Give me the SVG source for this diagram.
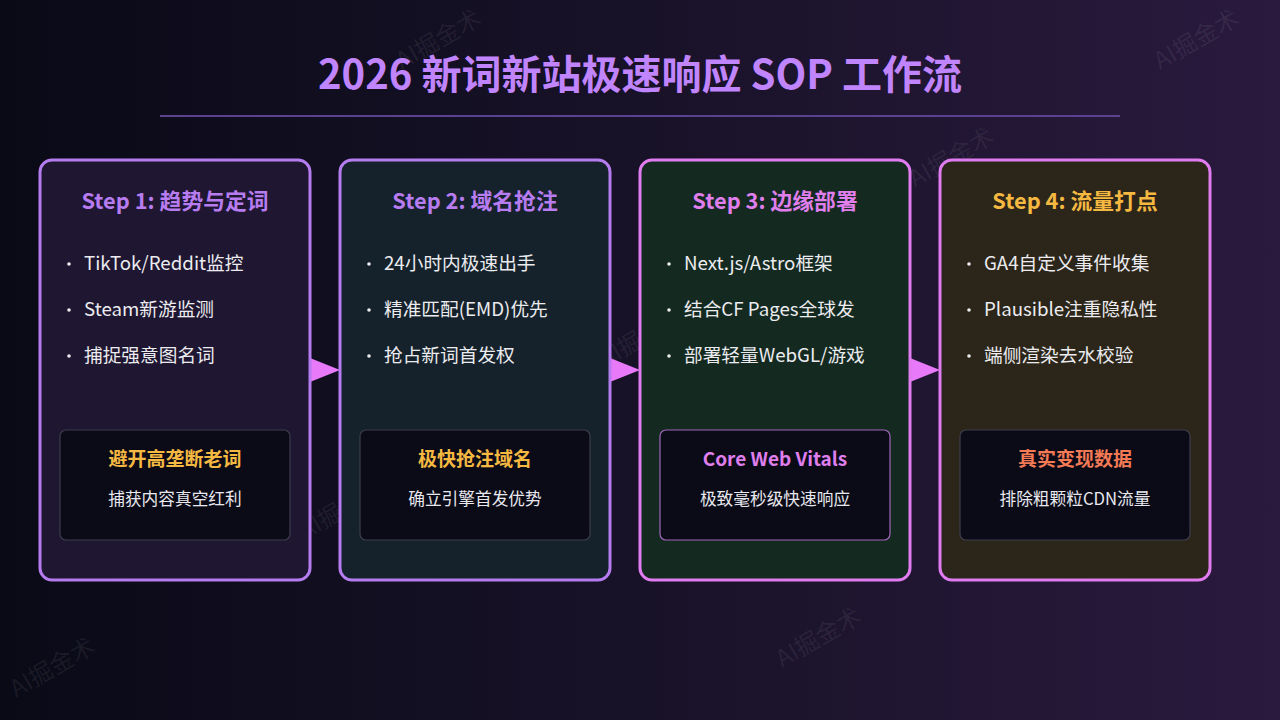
<svg xmlns="http://www.w3.org/2000/svg" width="1280" height="720" viewBox="0 0 1280 720">
<defs>
<linearGradient id="bg" x1="0" y1="0" x2="1" y2="0">
<stop offset="0" stop-color="#0a0a17"/>
<stop offset="0.5" stop-color="#181228"/>
<stop offset="1" stop-color="#2a1a3e"/>
</linearGradient>
<style>
text{font-family:"Noto Sans CJK SC","Noto Sans",sans-serif;}
.title{font-size:40px;font-weight:700;fill:#c084fc;text-anchor:middle;}
.step{font-size:21.8px;font-weight:700;text-anchor:middle;}
.item{font-size:18.7px;fill:#ececf0;}
.dot{fill:#ececf0;}
.card{stroke-width:3;}
.inner{fill:#0b0b18;stroke:#3c3c4c;stroke-width:1.2;}
.hl{font-size:19px;font-weight:700;text-anchor:middle;}
.sub{font-size:16.7px;fill:#e8e8ee;text-anchor:middle;}
.wm{font-size:24px;fill:#ffffff;fill-opacity:0.07;}
.arrow{fill:#e879f9;}
</style>
</defs>
<rect width="1280" height="720" fill="url(#bg)"/>
<g id="watermarks">
<text class="wm" transform="translate(402,70) rotate(-30)">AI掘金术</text>
<text class="wm" transform="translate(305,540) rotate(-30)">AI掘金术</text>
<text class="wm" transform="translate(605,368) rotate(-30)">AI掘金术</text>
<text class="wm" transform="translate(915,188) rotate(-30)">AI掘金术</text>
<text class="wm" transform="translate(1085,490) rotate(-30)">AI掘金术</text>
<text class="wm" transform="translate(782,668) rotate(-30)">AI掘金术</text>
<text class="wm" transform="translate(16,698) rotate(-30)">AI掘金术</text>
<text class="wm" transform="translate(1160,70) rotate(-30)">AI掘金术</text>
</g>
<g id="header">
<text class="title" x="640" y="89">2026 新词新站极速响应 SOP 工作流</text>
<line x1="160" y1="116" x2="1120" y2="116" stroke="#5b4290" stroke-width="2"/>
</g>
<g id="connectors">
<polygon class="arrow" points="310,358 340,370 310,382"/>
<polygon class="arrow" points="610,358 640,370 610,382"/>
<polygon class="arrow" points="910,358 940,370 910,382"/>
</g>
<g id="step1">
<rect class="card" x="40" y="160" width="270" height="420" rx="12" fill="#1f1631" stroke="#b57cf0"/>
<text class="step" x="175" y="209" fill="#b77cf0">Step 1: 趋势与定词</text>
<circle class="dot" cx="69" cy="264" r="1.8"/><text class="item" x="84" y="270">TikTok/Reddit监控</text>
<circle class="dot" cx="69" cy="310" r="1.8"/><text class="item" x="84" y="316">Steam新游监测</text>
<circle class="dot" cx="69" cy="356" r="1.8"/><text class="item" x="84" y="362">捕捉强意图名词</text>
<rect class="inner" x="60" y="430" width="230" height="110" rx="6"/>
<text class="hl" x="175" y="466" fill="#f5b942">避开高垄断老词</text>
<text class="sub" x="175" y="505">捕获内容真空红利</text>
</g>
<g id="step2">
<rect class="card" x="340" y="160" width="270" height="420" rx="12" fill="#15222b" stroke="#b57cf0"/>
<text class="step" x="475" y="209" fill="#b77cf0">Step 2: 域名抢注</text>
<circle class="dot" cx="369" cy="264" r="1.8"/><text class="item" x="384" y="270">24小时内极速出手</text>
<circle class="dot" cx="369" cy="310" r="1.8"/><text class="item" x="384" y="316">精准匹配(EMD)优先</text>
<circle class="dot" cx="369" cy="356" r="1.8"/><text class="item" x="384" y="362">抢占新词首发权</text>
<rect class="inner" x="360" y="430" width="230" height="110" rx="6"/>
<text class="hl" x="475" y="466" fill="#f5b942">极快抢注域名</text>
<text class="sub" x="475" y="505">确立引擎首发优势</text>
</g>
<g id="step3">
<rect class="card" x="640" y="160" width="270" height="420" rx="12" fill="#142a20" stroke="#e07cf0"/>
<text class="step" x="775" y="209" fill="#df7eec">Step 3: 边缘部署</text>
<circle class="dot" cx="669" cy="264" r="1.8"/><text class="item" x="684" y="270">Next.js/Astro框架</text>
<circle class="dot" cx="669" cy="310" r="1.8"/><text class="item" x="684" y="316">结合CF Pages全球发</text>
<circle class="dot" cx="669" cy="356" r="1.8"/><text class="item" x="684" y="362">部署轻量WebGL/游戏</text>
<rect class="inner" x="660" y="430" width="230" height="110" rx="6" style="stroke:#a066b8"/>
<text class="hl" x="775" y="466" fill="#df7eec">Core Web Vitals</text>
<text class="sub" x="775" y="505">极致毫秒级快速响应</text>
</g>
<g id="step4">
<rect class="card" x="940" y="160" width="270" height="420" rx="12" fill="#2b2619" stroke="#e07cf0"/>
<text class="step" x="1075" y="209" fill="#f5b942">Step 4: 流量打点</text>
<circle class="dot" cx="969" cy="264" r="1.8"/><text class="item" x="984" y="270">GA4自定义事件收集</text>
<circle class="dot" cx="969" cy="310" r="1.8"/><text class="item" x="984" y="316">Plausible注重隐私性</text>
<circle class="dot" cx="969" cy="356" r="1.8"/><text class="item" x="984" y="362">端侧渲染去水校验</text>
<rect class="inner" x="960" y="430" width="230" height="110" rx="6"/>
<text class="hl" x="1075" y="466" fill="#f47a55">真实变现数据</text>
<text class="sub" x="1075" y="505">排除粗颗粒CDN流量</text>
</g>
</svg>
